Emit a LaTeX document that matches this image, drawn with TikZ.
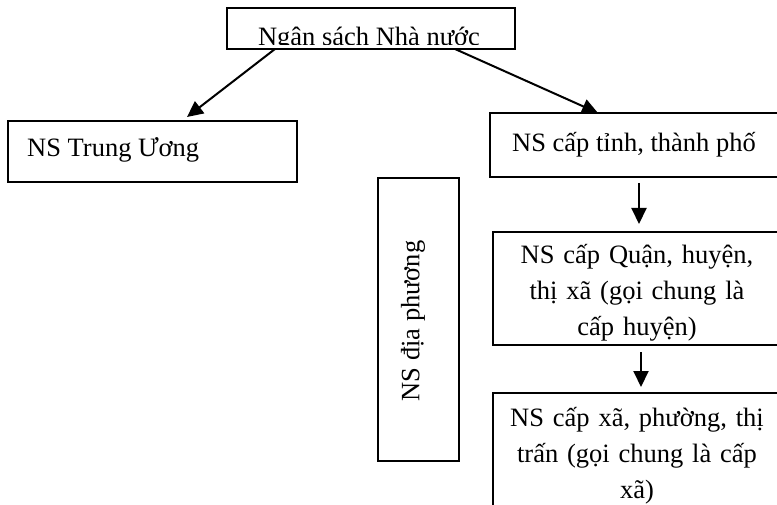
\documentclass[tikz,border=0pt]{standalone}
\usepackage{fontspec}
\setmainfont{Liberation Serif}
\usetikzlibrary{arrows.meta}
\begin{document}
\begin{tikzpicture}[x=1pt,y=-1pt,
  boxline/.style={draw=black,line width=2pt,fill=white},
  lbl/.style={font=\fontsize{26.5}{36}\selectfont,align=center,inner sep=0pt},
  conn/.style={line width=2pt,-{Triangle[length=16pt,width=15pt]}}]
\useasboundingbox (0,0) rectangle (777,505);
% boxes
\draw[boxline] (227,8) rectangle (515,49);
\coordinate (topL) at (275,49);
\coordinate (topR) at (455,49);
\draw[boxline] (8,121) rectangle (297,182);
\draw[boxline] (490,113) rectangle (790,177);
\draw[boxline] (493,232) rectangle (790,345);
\draw[boxline] (493,393) rectangle (790,520);
\draw[boxline] (378,178) rectangle (459,461);
% top clipped title
\begin{scope}
\clip (228,9) rectangle (514,45);
\node[lbl,anchor=base] (title) at (369,46) {Ngân sách Nhà nước};
\end{scope}
% texts
\node[lbl,anchor=base west] (tw) at (27,157) {NS Trung Ương};
\node[lbl,anchor=base] (tinh) at (634,152) {NS cấp tỉnh, thành phố};
\node[lbl,anchor=north,text width=270pt] (quan) at (637,244) {NS cấp Quận, huyện,\\ thị xã (gọi chung là\\ cấp huyện)};
\node[lbl,anchor=north,text width=270pt] (xa) at (637,407) {NS cấp xã, phường, thị\\ trấn (gọi chung là cấp\\ xã)};
\node[lbl,rotate=90] (dp) at (413,321) {NS địa phương};
% anchors for arrows
\coordinate (twT) at (187,117);
\coordinate (tinhT) at (598,113);
\coordinate (tinhB) at (639,183);
\coordinate (quanT) at (639,224);
\coordinate (quanB) at (641,352);
\coordinate (xaT) at (641,387);
\draw[conn] (topL) -- (twT);
\draw[conn] (topR) -- (tinhT);
\draw[conn] (tinhB) -- (quanT);
\draw[conn] (quanB) -- (xaT);
\end{tikzpicture}
\end{document}
